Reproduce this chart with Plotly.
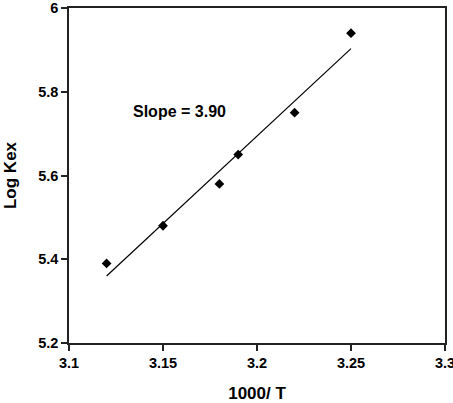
import plotly.graph_objects as go

# data
inv_t = [3.12, 3.15, 3.18, 3.19, 3.22, 3.25]
log_kex = [5.39, 5.48, 5.58, 5.65, 5.75, 5.94]

# fitted line end points
fit_x = [3.12, 3.25]
fit_y = [5.36, 5.903]

x_ticks = [3.1, 3.15, 3.2, 3.25, 3.3]
y_ticks = [5.2, 5.4, 5.6, 5.8, 6]

font_bold = "Liberation Sans"

fig = go.Figure()

fig.add_trace(go.Scatter(
	x=fit_x, y=fit_y,
	mode='lines',
	line=dict(color='black', width=1.2),
	showlegend=False
))

fig.add_trace(go.Scatter(
	x=inv_t, y=log_kex,
	mode='markers',
	marker=dict(symbol='diamond', size=7.5, color='black'),
	showlegend=False
))

fig.add_annotation(
	x=3.159, y=5.754, xref='x', yref='y',
	text='<b>Slope = 3.90</b>',
	showarrow=False,
	font=dict(family=font_bold, size=16, color='black')
)

axis_style = dict(
	showline=True, linecolor='#222', linewidth=1.5,
	mirror=True, ticks='outside', ticklen=6, tickwidth=1.5, tickcolor='#222',
	showgrid=False, zeroline=False, automargin=False,
	ticklabeloverflow='allow',
	tickfont=dict(family=font_bold, size=14.5, color='black'),
)

fig.update_layout(
	width=453, height=403,
	margin=dict(l=69, r=8, t=8, b=60),
	plot_bgcolor='white', paper_bgcolor='white',
	xaxis=dict(
		range=[3.1, 3.3], tickvals=x_ticks,
		ticktext=['<b>%s</b>' % t for t in ['3.1', '3.15', '3.2', '3.25', '3.3']],
		title=dict(text='<b>1000/ T</b>', font=dict(family=font_bold, size=17, color='black'), standoff=18),
		**axis_style
	),
	yaxis=dict(
		range=[5.2, 6], tickvals=y_ticks,
		ticktext=['<b>%s</b>' % t for t in ['5.2', '5.4', '5.6', '5.8', '6']],
		title=dict(text='<b>Log Kex</b>', font=dict(family=font_bold, size=17, color='black'), standoff=17),
		**axis_style
	),
)

# drop the default page margin so the figure sits at the window corner
fig.write_html("out.html", config={'displayModeBar': False},
	post_script="document.body.style.margin='0';")
